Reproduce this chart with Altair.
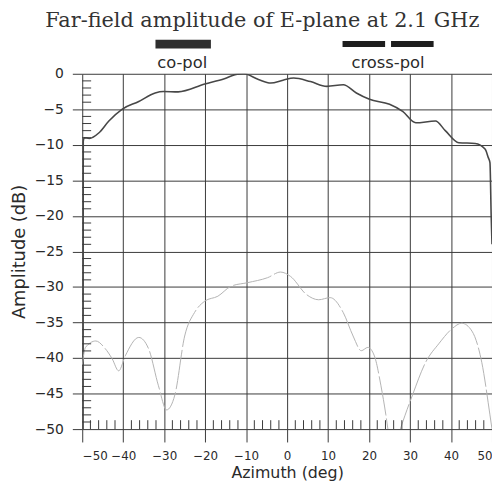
import altair as alt
import pandas as pd

# ---- data ----
title_text = "Far-field amplitude of E-plane at 2.1 GHz"
legend_labels = ["co-pol", "cross-pol"]

co_az = [-49.8, -49.75, -49.5, -48.3, -45.9, -43.5, -40.3, -36.2, -32.2, -30.2, -26.6,
         -20.1, -15.3, -12.1, -10.5, -7.0, -4.0, -1.0, 1.6, 5.7, 9.7, 13.7, 16.9,
         20.1, 25.0, 28.2, 31.4, 36.2, 38.6, 41.9, 45.9, 48.3, 49.1, 49.5, 49.8, 50.0]
co_amp = [-50.0, -9.5, -9.0, -9.1, -8.3, -6.65, -5.0, -3.9, -2.7, -2.5, -2.55,
          -1.45, -0.7, -0.05, 0.0, -0.8, -1.3, -0.9, -0.6, -1.1, -1.77, -1.55, -2.7,
          -3.6, -4.3, -5.3, -6.9, -6.65, -8.0, -9.7, -9.8, -10.6, -11.8, -12.5, -20.0, -24.0]

cr_az = [-50.0, -49.2, -46.7, -44.5, -42.7, -41.1, -39.5, -36.2, -33.8, -31.4, -29.4,
         -27.4, -25.0, -22.6, -20.1, -16.9, -13.7, -9.7, -4.8, -1.6, 0.8, 4.8, 7.7,
         10.5, 13.7, 16.1, 18.1, 19.7, 21.3, 22.9, 24.1, 24.6, 26.0, 27.8, 30.6, 33.8,
         37.0, 40.2, 42.6, 45.1, 47.5, 49.5, 50.0]
cr_amp = [-41.0, -38.5, -37.6, -38.6, -40.1, -41.8, -39.7, -37.1, -38.7, -43.9, -47.3,
          -45.2, -36.9, -33.6, -32.0, -31.3, -29.9, -29.4, -28.7, -27.9, -28.5, -31.1, -31.8,
          -31.5, -33.6, -36.9, -38.97, -38.5, -39.7, -43.9, -48.0, -50.0, -53.0, -49.7, -45.2, -40.6,
          -38.0, -35.9, -35.1, -36.2, -40.6, -48.0, -50.0]

x_major = list(range(-50, 51, 10))
y_major = list(range(-50, 1, 5))
x_minor = [v for v in range(-48, 50, 2) if v % 10 != 0]
y_minor = [v for v in range(-49, 0) if v % 5 != 0]

W, H = 414, 359
SANS = "DejaVu Sans"
SERIF = "DejaVu Serif"
GRID = "#3a3a3a"
TXT = "#2a2a2a"

co = pd.DataFrame({"az": co_az, "amp": co_amp})
cr = pd.DataFrame({"az": cr_az, "amp": cr_amp})

xs = alt.Scale(domain=[-50, 50], nice=False, zero=False)
ys = alt.Scale(domain=[-50, 0], nice=False, zero=False)

x_axis = alt.Axis(values=x_major, grid=True, gridColor=GRID, gridWidth=1, gridOpacity=1,
                  domain=False, ticks=True, tickSize=13, tickColor=GRID, tickWidth=1,
                  labelFont=SANS, labelFontSize=12, labelColor=TXT, labelPadding=9,
                  title="Azimuth (deg)", titleFont=SANS, titleFontSize=16,
                  titleFontWeight="normal", titleColor=TXT, titlePadding=3)
y_axis = alt.Axis(values=y_major, grid=True, gridColor=GRID, gridWidth=1, gridOpacity=1,
                  domain=False, ticks=True, tickSize=10, tickColor=GRID, tickWidth=1,
                  labelFont=SANS, labelFontSize=14, labelColor=TXT, labelPadding=9,
                  title="Amplitude (dB)", titleFont=SANS, titleFontSize=18,
                  titleFontWeight="normal", titleColor=TXT, titlePadding=6)

X = lambda f: alt.X(f, scale=xs, axis=x_axis)
Y = lambda f: alt.Y(f, scale=ys, axis=y_axis)

co_line = alt.Chart(co).mark_line(color="#474747", strokeWidth=1.6, interpolate="monotone",
                                  clip=True).encode(
    x=X("az:Q"), y=Y("amp:Q"), order="az:Q",
)

cr_line = alt.Chart(cr).mark_line(color="#b3b3b3", strokeWidth=1, interpolate="monotone",
                                  strokeDash=[40, 3], clip=True).encode(
    x=X("az:Q"), y=Y("amp:Q"), order="az:Q",
)

minor_y = alt.Chart(pd.DataFrame({"v": y_minor})).mark_rule(color=GRID, strokeWidth=1).encode(
    y=Y("v:Q"), x=alt.value(0), x2=alt.value(9),
)
minor_x = alt.Chart(pd.DataFrame({"v": x_minor})).mark_rule(color=GRID, strokeWidth=1).encode(
    x=X("v:Q"), y=alt.value(H), y2=alt.value(H - 9),
)

title = alt.Chart(pd.DataFrame({"t": [title_text]})).mark_text(
    font=SERIF, fontSize=21, color="#333333", align="center", baseline="alphabetic"
).encode(text="t:N", x=alt.value(182), y=alt.value(-47.5))

co_bar = alt.Chart(pd.DataFrame({"k": [legend_labels[0]]})).mark_rule(
    color="#2e2e2e", strokeWidth=9, strokeCap="butt"
).encode(x=alt.value(74), x2=alt.value(130), y=alt.value(-30))
cr_bar = alt.Chart(pd.DataFrame({"k": [legend_labels[1]]})).mark_rule(
    color="#1e1e1e", strokeWidth=6, strokeCap="butt", strokeDash=[43, 6]
).encode(x=alt.value(263), x2=alt.value(356), y=alt.value(-30))

co_lab = alt.Chart(pd.DataFrame({"k": [legend_labels[0]]})).mark_text(
    font=SANS, fontSize=16.5, color=TXT, align="center", baseline="alphabetic"
).encode(text="k:N", x=alt.value(101), y=alt.value(-5.5))
cr_lab = alt.Chart(pd.DataFrame({"k": [legend_labels[1]]})).mark_text(
    font=SANS, fontSize=16.5, color=TXT, align="center", baseline="alphabetic"
).encode(text="k:N", x=alt.value(309), y=alt.value(-5.5))

chart = alt.layer(
    co_line, cr_line, minor_y, minor_x, title, co_bar, cr_bar, co_lab, cr_lab
).properties(
    width=W, height=H,
    autosize=alt.AutoSizeParams(type="none"),
    padding={"left": 75, "top": 64, "right": 0, "bottom": 52},
    background="white",
).configure_view(stroke=None)

chart.save("out.html", embed_options={"renderer": "svg", "actions": False})
